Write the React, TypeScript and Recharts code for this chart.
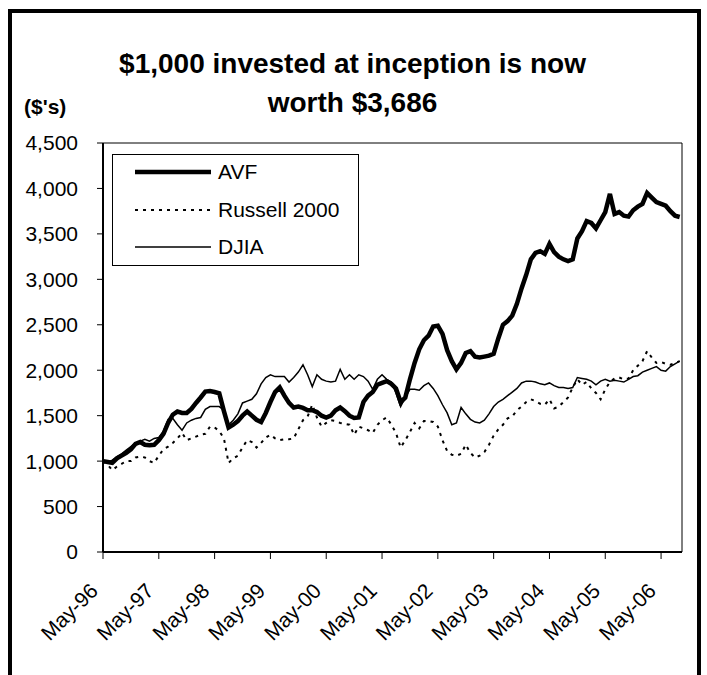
import React from 'react';
import { LineChart, Line, XAxis, YAxis, Legend, ReferenceLine } from 'recharts';

// monthly values, May-96 .. Sep-06
const avf = [
  1000, 990, 980, 1030, 1060, 1090, 1130, 1190, 1210, 1180,
  1175, 1180, 1230, 1300, 1420, 1510, 1545, 1530, 1530, 1575,
  1640, 1700, 1765, 1770, 1760, 1745, 1550, 1370, 1400, 1440,
  1500, 1545, 1500, 1455, 1430, 1530, 1650, 1760, 1810, 1720,
  1640, 1590, 1600, 1585, 1560, 1560, 1540, 1500, 1480, 1500,
  1560, 1590, 1550, 1500, 1475, 1480, 1650, 1720, 1760, 1840,
  1860, 1880, 1850, 1800, 1650, 1700, 1900, 2080, 2230, 2330,
  2380, 2480, 2490, 2400, 2220, 2100, 2010, 2080, 2190, 2210,
  2150, 2140, 2150, 2160, 2180, 2350, 2500, 2540, 2600, 2730,
  2900, 3050, 3220, 3290, 3310, 3280, 3390, 3300, 3250, 3220,
  3200, 3220, 3450, 3530, 3640, 3620, 3560, 3650, 3740, 3940,
  3720, 3740, 3700, 3690, 3760, 3800, 3830, 3950, 3900, 3850,
  3830, 3810, 3750, 3700, 3686,
];

const russell = [
  1000, 960, 900, 940, 970, 1000, 1000, 1040, 1050, 1040,
  1000, 980, 1060, 1130, 1160, 1200, 1250, 1310, 1230, 1250,
  1270, 1290, 1300, 1380, 1370, 1330, 1250, 980, 1030, 1060,
  1150, 1230, 1210, 1150, 1200, 1260, 1290, 1250, 1230, 1240,
  1240, 1250, 1350, 1450, 1490, 1620, 1480, 1380, 1420, 1450,
  1440, 1420, 1410, 1400, 1290, 1380, 1360, 1340, 1310, 1400,
  1450, 1480, 1400, 1310, 1150, 1230, 1320, 1420, 1360, 1440,
  1440, 1430, 1380, 1230, 1110, 1070, 1060, 1080, 1180, 1090,
  1040, 1060, 1100, 1180, 1280, 1350, 1400, 1470, 1490, 1560,
  1600, 1650, 1680, 1660, 1630, 1620, 1680, 1580, 1600, 1650,
  1700, 1810, 1900, 1840, 1870, 1800, 1750, 1680, 1790, 1870,
  1910, 1920, 1900, 1910, 2000, 2050, 2100, 2210, 2140, 2080,
  2090, 2070, 2060, 2080, 2100,
];

const djia = [
  1000, 990, 1010, 1050, 1080, 1120, 1160, 1200, 1220, 1240,
  1220, 1250, 1260, 1330, 1460, 1470, 1400, 1340, 1420, 1450,
  1470, 1480, 1570, 1600, 1600, 1600, 1560, 1400, 1450, 1520,
  1640, 1660, 1680, 1740, 1850, 1920, 1950, 1930, 1930, 1930,
  1870, 1920, 1980, 2060, 1950, 1820, 1950, 1900, 1880, 1870,
  1880, 2010, 1900, 1950, 1900, 1950, 1930, 1880, 1790, 1900,
  1950, 1900, 1870, 1750, 1600, 1700, 1790, 1790, 1780, 1830,
  1860, 1800, 1720, 1620, 1530, 1400, 1420, 1590, 1520, 1460,
  1430, 1420, 1450, 1520, 1600, 1650, 1680, 1720, 1760, 1800,
  1860, 1880, 1880, 1870, 1850, 1840, 1860, 1830, 1810, 1810,
  1800, 1810, 1920, 1910, 1900, 1880, 1840, 1880, 1900, 1880,
  1890, 1880, 1870, 1900, 1930, 1940, 1980, 2000, 2020, 2040,
  2000, 1990, 2040, 2070, 2100,
];

const xTickLabels = ['May-96', 'May-97', 'May-98', 'May-99', 'May-00', 'May-01', 'May-02', 'May-03', 'May-04', 'May-05', 'May-06'];
const xTicks = xTickLabels.map((_, i) => i * 12);
const yTicks = [0, 500, 1000, 1500, 2000, 2500, 3000, 3500, 4000, 4500];

const data = avf.map((v, i) => ({ m: i, avf: v, russell: russell[i], djia: djia[i] }));

const FONT = '"Liberation Sans", Arial, sans-serif';

const XTick = (props: any) => {
  const { x, y, payload } = props;
  const label = xTickLabels[Math.round(payload.value / 12)];
  return (
    <g transform={`translate(${x - 9},${y + 26}) rotate(-45)`}>
      <text textAnchor="end" dy="0.35em" fontSize={21} fontFamily={FONT} fill="#000">
        {label}
      </text>
    </g>
  );
};

const legendItems = [
  { name: 'AVF', width: 4.5, dash: undefined as string | undefined },
  { name: 'Russell 2000', width: 2, dash: '3 5' },
  { name: 'DJIA', width: 1.5, dash: undefined },
];

const renderLegend = () => (
  <div style={{ position: 'relative', width: 247, height: 112, border: '1px solid #000', boxSizing: 'border-box', background: '#fff' }}>
    {legendItems.map((it, i) => (
      <div key={it.name} style={{ position: 'absolute', left: 20, top: 6 + i * 37.5, height: 22, display: 'flex', alignItems: 'center' }}>
        <svg width={80} height={10}>
          <line x1={2} y1={5} x2={78} y2={5} stroke="#000" strokeWidth={it.width} strokeDasharray={it.dash} />
        </svg>
        <span style={{ marginLeft: 5, fontFamily: FONT, fontSize: 21, color: '#000' }}>{it.name}</span>
      </div>
    ))}
  </div>
);

export default function App() {
  return (
    <div style={{ position: 'absolute', left: 0, top: 0, width: 707, height: 675, overflow: 'hidden', background: '#fff' }}>
      <div style={{ position: 'absolute', left: 8, top: 9, width: 693, height: 666, border: '4px solid #000', borderBottom: 'none', boxSizing: 'border-box' }} />
      <div style={{ position: 'absolute', left: 0, top: 44, width: 705, textAlign: 'center', fontFamily: FONT, fontWeight: 'bold', fontSize: 28, lineHeight: '39px', color: '#000' }}>
        $1,000 invested at inception is now
        <br />
        worth $3,686
      </div>
      <div style={{ position: 'absolute', left: 24, top: 97, fontFamily: FONT, fontWeight: 'bold', fontSize: 21, lineHeight: '20px', color: '#000' }}>
        ($'s)
      </div>
      <div style={{ position: 'absolute', left: 0, top: 0 }}>
        <LineChart width={707} height={675} data={data} margin={{ top: 143, right: 25, bottom: 0, left: 0 }}>
          <XAxis
            dataKey="m"
            type="number"
            domain={[0, 124.5]}
            ticks={xTicks}
            tick={<XTick />}
            height={123}
            tickSize={7}
            tickLine={{ stroke: '#000' }}
            axisLine={{ stroke: '#000', strokeWidth: 2 }}
          />
          <YAxis
            domain={[0, 4500]}
            ticks={yTicks}
            width={103}
            tickSize={6}
            tickMargin={19}
            tickFormatter={(v: number) => v.toLocaleString('en-US')}
            tick={{ fontSize: 21, fontFamily: FONT, fill: '#000' }}
            tickLine={{ stroke: '#000' }}
            axisLine={{ stroke: '#000', strokeWidth: 2 }}
          />
          <ReferenceLine y={4500} stroke="#000" strokeWidth={1} />
          <ReferenceLine x={124.5} stroke="#000" strokeWidth={1} />
          <Legend
            content={renderLegend}
            layout="horizontal"
            verticalAlign="middle"
            align="center"
            wrapperStyle={{ left: 112, top: 154, width: 247, height: 112 }}
          />
          <Line type="linear" dataKey="russell" stroke="#000" strokeWidth={2} strokeDasharray="3 5" dot={false} isAnimationActive={false} />
          <Line type="linear" dataKey="djia" stroke="#000" strokeWidth={1.5} dot={false} isAnimationActive={false} />
          <Line type="linear" dataKey="avf" stroke="#000" strokeWidth={4.5} dot={false} isAnimationActive={false} />
        </LineChart>
      </div>
    </div>
  );
}
